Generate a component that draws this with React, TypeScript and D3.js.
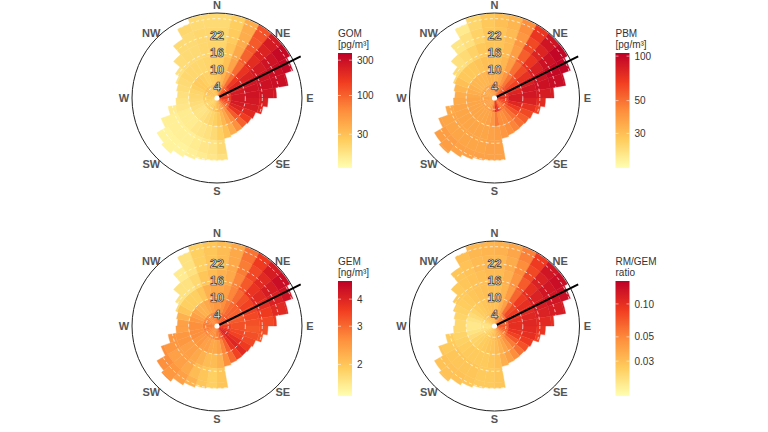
import React from "react";
import * as d3 from "d3";

// Wind-speed bands (m/s) and 10° direction sectors
const bandEdges = [0, 5, 10, 15, 20, 25, 30];
const sectorWidth = 10;
const speedMax = 30;
const ringSpeeds = [4, 10, 16, 22, 28];
const ringLabels = [4, 10, 16, 22];
const compass = ["N", "NE", "E", "SE", "S", "SW", "W", "NW"];

// Highest wind speed observed in each 10° sector (starting at north, clockwise)
const speedExtent = [
  29.7, 29.7, 29.7, 29.7, 29.7, 29.7, 28.5, 25.5, 21, 18, 16.5, 14.5,
  14, 13.7, 13.8, 14, 14.5, 22, 22, 22.3, 23, 24, 25.5, 24.5,
  21, 17.5, 14.5, 14, 14.5, 15.5, 17, 20, 24, 28, 29.7, 29.7,
];

// Source direction marker
const markerBearing = 63.5;
const markerLength = 33;

const _ = null;

// GOM [pg/m³], one row per speed band, one value per sector
const gomBand0 = [35, 45, 60, 90, 120, 140, 150, 160, 160, 150, 140, 120, 100, 80, 60, 50, 40, 35, 30, 28, 25, 24, 22, 22, 22, 24, 25, 25, 26, 28, 30, 30, 28, 28, 30, 32];
const gomBand1 = [28, 35, 50, 90, 160, 200, 230, 250, 260, 260, 250, 220, 170, 110, 65, 45, 35, 28, 24, 22, 20, 18, 17, 17, 18, 19, 20, 21, 22, 24, 26, 26, 24, 23, 24, 26];
const gomBand2 = [24, 30, 45, 90, 170, 220, 260, 280, 280, 260, 240, 200, 150, 100, 60, 40, 30, 24, 20, 18, 17, 16, 15, 15, 15, 16, 17, 18, 19, 20, 21, 21, 21, 21, 22, 23];
const gomBand3 = [22, 28, 42, 100, 190, 250, 280, 290, 270, 230, 200, _, _, _, _, _, _, 20, 17, 16, 15, 14, 14, 14, 14, 15, _, _, _, 17, 18, 19, 20, 20, 21, 22];
const gomBand4 = [21, 26, 40, 110, 220, 280, 300, 300, 260, _, _, _, _, _, _, _, _, 18, 16, 15, 14, 13, 13, 13, 14, _, _, _, _, _, _, _, 20, 20, 21, 21];
const gomBand5 = [20, 25, 40, 120, 250, 320, 330, 300, _, _, _, _, _, _, _, _, _, _, _, _, _, _, 13, _, _, _, _, _, _, _, _, _, _, 21, 20, 20];

// PBM [pg/m³]
const pbmBand0 = [38, 40, 45, 50, 58, 62, 66, 70, 72, 70, 65, 60, 55, 50, 48, 55, 70, 78, 50, 40, 38, 37, 37, 37, 37, 37, 37, 36, 36, 35, 35, 35, 36, 36, 37, 38];
const pbmBand1 = [33, 35, 40, 48, 58, 65, 72, 80, 85, 85, 78, 68, 58, 50, 45, 42, 42, 48, 40, 37, 36, 36, 36, 36, 36, 36, 36, 35, 34, 33, 32, 32, 32, 32, 33, 33];
const pbmBand2 = [30, 32, 38, 50, 62, 72, 82, 88, 88, 82, 72, 62, 55, 50, 45, 42, 40, 38, 37, 36, 36, 36, 36, 36, 36, 36, 35, 34, 32, 30, 28, 28, 28, 29, 30, 30];
const pbmBand3 = [29, 31, 38, 55, 70, 82, 90, 92, 85, 75, 65, _, _, _, _, _, _, 37, 37, 36, 36, 36, 36, 36, 36, 35, _, _, _, 25, 24, 23, 24, 26, 28, 29];
const pbmBand4 = [29, 31, 40, 62, 80, 92, 98, 95, 85, _, _, _, _, _, _, _, _, 37, 37, 37, 37, 37, 38, 38, 37, _, _, _, _, _, _, _, 22, 23, 26, 28];
const pbmBand5 = [30, 32, 42, 70, 90, 100, 102, 95, _, _, _, _, _, _, _, _, _, _, _, _, _, _, 38, _, _, _, _, _, _, _, _, _, _, 21, 25, 28];

// GEM [ng/m³]
const gemBand0 = [2.8, 2.9, 3.0, 3.1, 3.2, 3.2, 3.2, 3.3, 3.4, 3.5, 3.6, 3.8, 4.0, 4.1, 3.8, 3.3, 3.0, 2.8, 2.7, 2.6, 2.6, 2.6, 2.6, 2.7, 2.7, 2.8, 2.8, 2.8, 2.8, 2.7, 2.7, 2.6, 2.6, 2.7, 2.7, 2.8];
const gemBand1 = [2.5, 2.6, 2.8, 3.0, 3.1, 3.1, 3.2, 3.2, 3.3, 3.3, 3.4, 3.5, 3.8, 4.0, 3.7, 3.1, 2.7, 2.4, 2.3, 2.3, 2.4, 2.4, 2.5, 2.5, 2.6, 2.6, 2.6, 2.6, 2.5, 2.4, 2.3, 2.2, 2.2, 2.3, 2.4, 2.5];
const gemBand2 = [2.3, 2.4, 2.7, 3.0, 3.3, 3.5, 3.5, 3.4, 3.3, 3.2, 3.3, 3.4, 3.6, 3.9, 3.5, 3.0, 2.6, 2.2, 2.1, 2.1, 2.2, 2.3, 2.4, 2.4, 2.5, 2.5, 2.4, 2.4, 2.2, 2.0, 1.9, 1.9, 1.9, 2.0, 2.2, 2.3];
const gemBand3 = [2.2, 2.3, 2.7, 3.2, 3.7, 3.9, 3.8, 3.6, 3.4, 3.3, 3.2, _, _, _, _, _, _, 2.0, 1.9, 2.0, 2.1, 2.3, 2.4, 2.4, 2.5, 2.5, _, _, _, 1.8, 1.7, 1.7, 1.7, 1.8, 2.0, 2.1];
const gemBand4 = [2.1, 2.3, 2.8, 3.4, 3.9, 4.2, 4.1, 3.9, 3.6, _, _, _, _, _, _, _, _, 2.0, 1.9, 2.0, 2.2, 2.4, 2.5, 2.6, 2.6, _, _, _, _, _, _, _, 1.6, 1.7, 1.9, 2.0];
const gemBand5 = [2.1, 2.3, 2.9, 3.6, 4.2, 4.5, 4.4, 4.0, _, _, _, _, _, _, _, _, _, _, _, _, _, _, 2.6, _, _, _, _, _, _, _, _, _, _, 1.7, 1.9, 2.0];

// RM/GEM ratio
const ratioBand0 = [0.032, 0.035, 0.04, 0.048, 0.055, 0.06, 0.065, 0.068, 0.07, 0.07, 0.068, 0.062, 0.055, 0.048, 0.042, 0.038, 0.035, 0.032, 0.03, 0.028, 0.027, 0.026, 0.025, 0.024, 0.022, 0.021, 0.02, 0.02, 0.021, 0.023, 0.025, 0.027, 0.028, 0.029, 0.03, 0.031];
const ratioBand1 = [0.03, 0.033, 0.04, 0.06, 0.08, 0.09, 0.095, 0.1, 0.1, 0.1, 0.095, 0.085, 0.07, 0.055, 0.045, 0.038, 0.034, 0.031, 0.029, 0.028, 0.027, 0.026, 0.025, 0.024, 0.022, 0.02, 0.019, 0.019, 0.02, 0.022, 0.024, 0.026, 0.027, 0.028, 0.029, 0.03];
const ratioBand2 = [0.03, 0.033, 0.042, 0.065, 0.09, 0.1, 0.105, 0.11, 0.11, 0.105, 0.1, 0.09, 0.075, 0.06, 0.048, 0.04, 0.035, 0.03, 0.028, 0.027, 0.027, 0.027, 0.027, 0.026, 0.025, 0.024, 0.023, 0.023, 0.024, 0.025, 0.026, 0.027, 0.028, 0.029, 0.03, 0.03];
const ratioBand3 = [0.031, 0.034, 0.045, 0.07, 0.1, 0.115, 0.12, 0.115, 0.105, 0.095, 0.085, _, _, _, _, _, _, 0.028, 0.027, 0.027, 0.028, 0.028, 0.028, 0.028, 0.027, 0.026, _, _, _, 0.026, 0.027, 0.027, 0.028, 0.029, 0.03, 0.031];
const ratioBand4 = [0.032, 0.036, 0.048, 0.08, 0.115, 0.13, 0.13, 0.12, 0.1, _, _, _, _, _, _, _, _, 0.028, 0.027, 0.027, 0.028, 0.029, 0.029, 0.029, 0.028, _, _, _, _, _, _, _, 0.028, 0.029, 0.031, 0.032];
const ratioBand5 = [0.034, 0.038, 0.052, 0.09, 0.13, 0.14, 0.14, 0.125, _, _, _, _, _, _, _, _, _, _, _, _, _, _, 0.03, _, _, _, _, _, _, _, _, _, _, 0.03, 0.032, 0.033];

// Colour-bar ranges and ticks
const gomRange = [10.5, 375];
const gomTicks = [30, 100, 300];
const pbmRange = [17.5, 105];
const pbmTicks = [30, 50, 100];
const gemRange = [1.43, 4.85];
const gemTicks = [2, 3, 4];
const ratioRange = [0.0144, 0.162];
const ratioTicks = [0.03, 0.05, 0.1];

const palette = ["#ffffb2", "#fecc5c", "#fd8d3c", "#f03b20", "#bd0026"];
const ramp = d3.piecewise(d3.interpolateRgb, palette);

const FONT = "'Liberation Sans', Arial, sans-serif";
const R = 85;
const compassRadius = 93;

type PanelSpec = {
  id: string;
  cx: number;
  cy: number;
  grid: (number | null)[][];
  range: number[];
  ticks: number[];
  fmt: (v: number) => string;
  title: string[];
};

const panels: PanelSpec[] = [
  { id: "gom", cx: 217, cy: 98, grid: [gomBand0, gomBand1, gomBand2, gomBand3, gomBand4, gomBand5], range: gomRange, ticks: gomTicks, fmt: (v) => String(v), title: ["GOM", "[pg/m³]"] },
  { id: "pbm", cx: 494.5, cy: 98, grid: [pbmBand0, pbmBand1, pbmBand2, pbmBand3, pbmBand4, pbmBand5], range: pbmRange, ticks: pbmTicks, fmt: (v) => String(v), title: ["PBM", "[pg/m³]"] },
  { id: "gem", cx: 217, cy: 326, grid: [gemBand0, gemBand1, gemBand2, gemBand3, gemBand4, gemBand5], range: gemRange, ticks: gemTicks, fmt: (v) => String(v), title: ["GEM", "[ng/m³]"] },
  { id: "ratio", cx: 494.5, cy: 326, grid: [ratioBand0, ratioBand1, ratioBand2, ratioBand3, ratioBand4, ratioBand5], range: ratioRange, ticks: ratioTicks, fmt: (v) => v.toFixed(2), title: ["RM/GEM", "ratio"] },
];

const rScale = d3.scaleLinear().domain([0, speedMax]).range([0, R]);
const arc = d3.arc<any>();
const rad = (deg: number) => (deg * Math.PI) / 180;

function Panel({ p }: { p: PanelSpec }) {
  const colorT = d3.scaleLog().domain(p.range).range([0, 1]).clamp(true);
  const barTop = p.cy - 45;
  const barBottom = p.cy + 70;
  const barX = p.cx + 121;
  const barW = 14;
  const barY = d3.scaleLog().domain(p.range).range([barBottom, barTop]);

  const cells: React.ReactNode[] = [];
  p.grid.forEach((row, b) => {
    row.forEach((v, i) => {
      if (v == null) return;
      const inner = bandEdges[b];
      const outer = Math.min(bandEdges[b + 1], speedExtent[i]);
      if (outer <= inner) return;
      const col = ramp(colorT(v));
      const d = arc({
        innerRadius: rScale(inner),
        outerRadius: rScale(outer),
        startAngle: rad(i * sectorWidth),
        endAngle: rad((i + 1) * sectorWidth),
      });
      cells.push(<path key={`${b}-${i}`} d={d || ""} fill={col} stroke={col} strokeWidth={0.4} />);
    });
  });

  const gradStops = d3.range(0, 1.0001, 0.05);
  const mx = Math.sin(rad(markerBearing)) * rScale(markerLength);
  const my = -Math.cos(rad(markerBearing)) * rScale(markerLength);

  return (
    <g>
      <defs>
        <linearGradient id={`grad-${p.id}`} x1="0" y1="1" x2="0" y2="0">
          {gradStops.map((t) => (
            <stop key={t} offset={t} stopColor={ramp(t)} />
          ))}
        </linearGradient>
      </defs>
      <g transform={`translate(${p.cx},${p.cy})`}>
        {cells}
        {ringSpeeds.map((s) => (
          <circle key={s} r={rScale(s)} fill="none" stroke="#ffffff" strokeOpacity={0.85} strokeWidth={0.8} strokeDasharray="3,2.5" />
        ))}
        <circle r={R} fill="none" stroke="#222" strokeWidth={1} />
        <line x1={0} y1={0} x2={mx} y2={my} stroke="#000" strokeWidth={2} />
        <circle r={2.6} fill="#fff" />
        {ringLabels.map((s) => (
          <text key={s} x={0} y={-rScale(s)} dy="0.36em" textAnchor="middle" fontFamily={FONT} fontWeight="bold" fontSize={12.5} fill="#eeeeee" stroke="#333" strokeWidth={0.7}>
            {s}
          </text>
        ))}
        {compass.map((c, k) => {
          const a = rad(k * 45);
          return (
            <text key={c} x={Math.sin(a) * compassRadius} y={-Math.cos(a) * compassRadius} dy="0.4em" textAnchor="middle" fontFamily={FONT} fontWeight="bold" fontSize={11} fill="#555">
              {c}
            </text>
          );
        })}
      </g>
      <text x={barX} y={p.cy - 61.5} fontFamily={FONT} fontSize={10} fill="#333">{p.title[0]}</text>
      <text x={barX} y={p.cy - 50.5} fontFamily={FONT} fontSize={10} fill="#333">{p.title[1]}</text>
      <rect x={barX} y={barTop} width={barW} height={barBottom - barTop} fill={`url(#grad-${p.id})`} />
      {p.ticks.map((t) => (
        <g key={t}>
          <line x1={barX} x2={barX + 3} y1={barY(t)} y2={barY(t)} stroke="#fff" strokeOpacity={0.7} strokeWidth={0.8} />
          <line x1={barX + barW - 3} x2={barX + barW} y1={barY(t)} y2={barY(t)} stroke="#fff" strokeOpacity={0.7} strokeWidth={0.8} />
          <text x={barX + barW + 5} y={barY(t)} dy="0.36em" fontFamily={FONT} fontSize={10} fill="#333">
            {p.fmt(t)}
          </text>
        </g>
      ))}
    </g>
  );
}

export default function App() {
  return (
    <svg width={768} height={432} style={{ position: "absolute", left: 0, top: 0, background: "#fff" }}>
      <rect width={768} height={432} fill="#fff" />
      {panels.map((p) => (
        <Panel key={p.id} p={p} />
      ))}
    </svg>
  );
}
